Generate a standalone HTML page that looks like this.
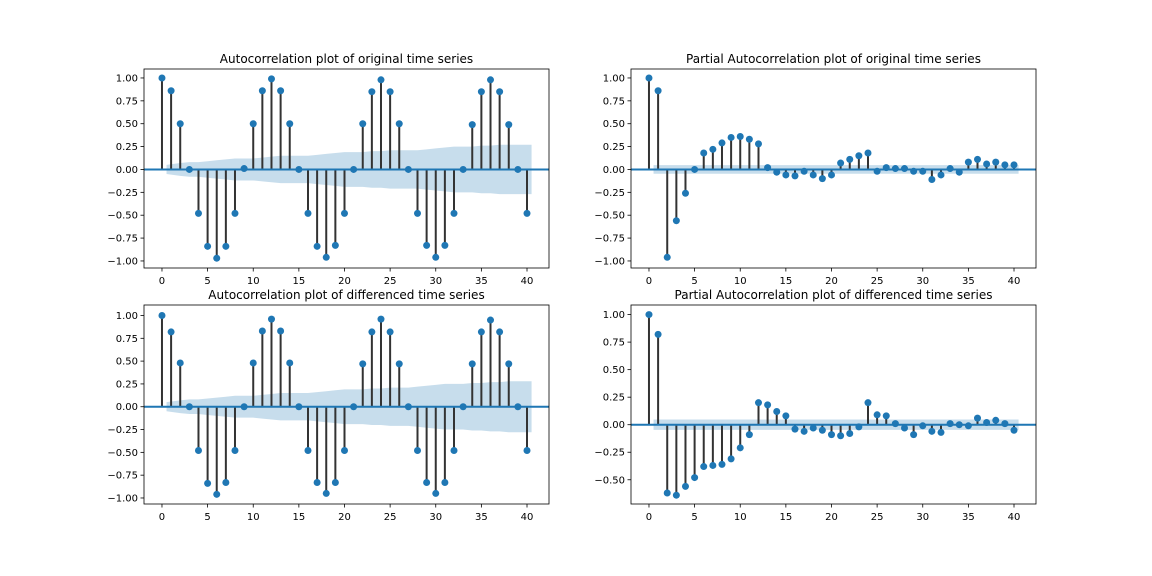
<!DOCTYPE html>
<html><head><meta charset="utf-8"><style>
body{margin:0;background:#fff;}
svg{display:block;font-family:"DejaVu Sans","Liberation Sans",sans-serif;}
</style></head><body>
<svg id="fig" width="1152" height="576"></svg>
<script>
const lags = Array.from({length:41},(_,i)=>i);
const acfOrig = [1,.86,.5,0,-.48,-.84,-.97,-.84,-.48,.01,.5,.86,.99,.86,.5,0,-.48,-.84,-.96,-.83,-.48,0,.5,.85,.98,.85,.5,0,-.48,-.83,-.96,-.83,-.48,0,.49,.85,.98,.85,.49,0,-.48];
const acfOrigBand = [0,.05,.07,.08,.08,.09,.10,.11,.12,.12,.12,.13,.14,.15,.15,.15,.15,.16,.17,.18,.19,.19,.19,.20,.20,.21,.21,.21,.21,.22,.23,.24,.25,.25,.25,.26,.26,.27,.27,.27,.27];
const pacfOrig = [1,.86,-.96,-.56,-.26,0,.18,.22,.29,.35,.36,.33,.28,.02,-.03,-.06,-.07,-.02,-.06,-.1,-.06,.07,.11,.15,.18,-.02,.02,.01,.01,-.02,-.02,-.11,-.06,.01,-.03,.08,.11,.06,.08,.05,.05];
const acfDiff = [1,.82,.48,0,-.48,-.84,-.96,-.83,-.48,0,.48,.83,.96,.83,.48,0,-.48,-.83,-.95,-.83,-.48,0,.47,.82,.96,.82,.47,0,-.48,-.83,-.95,-.83,-.48,0,.47,.82,.95,.82,.47,0,-.48];
const acfDiffBand = [0,.05,.07,.08,.08,.09,.10,.11,.12,.12,.12,.13,.14,.15,.15,.15,.15,.16,.17,.18,.19,.19,.19,.20,.20,.21,.21,.21,.22,.23,.24,.25,.25,.25,.26,.26,.27,.27,.28,.28,.28];
const pacfDiff = [1,.82,-.62,-.64,-.56,-.48,-.38,-.37,-.36,-.31,-.21,-.09,.2,.18,.12,.08,-.04,-.06,-.03,-.05,-.09,-.1,-.08,-.02,.2,.09,.08,.01,-.03,-.09,-.01,-.06,-.07,.01,0,-.01,.06,.02,.04,.01,-.05];
const pacfBand = 0.047;
const xTicks = [0,5,10,15,20,25,30,35,40];
const yTicksFull = [-1,-.75,-.5,-.25,0,.25,.5,.75,1];
const yTicksDiffPacf = [-.5,-.25,0,.25,.5,.75,1];

const NS="http://www.w3.org/2000/svg";
const fig=document.getElementById('fig');
function mk(tag,attrs,parent){const e=document.createElementNS(NS,tag);for(const k in attrs)e.setAttribute(k,attrs[k]);(parent||fig).appendChild(e);return e;}

function panel(name,title,box,ylim,vals,band,yticks){
  const g=mk('g',{});
  
  
  const [L,T,R,B]=box;
  const xlim=[-1.97,42.41];
  const sx=v=>L+(v-xlim[0])/(xlim[1]-xlim[0])*(R-L);
  const sy=v=>T+(ylim[1]-v)/(ylim[1]-ylim[0])*(B-T);
  let top=[],bot=[];
  for(let i=1;i<lags.length;i++){const b=Array.isArray(band)?band[i]:band;const x=i===1?lags[i]-0.5:(i===lags.length-1?lags[i]+0.5:lags[i]);top.push(sx(x)+','+sy(b));bot.unshift(sx(x)+','+sy(-b));}
  if(!Array.isArray(band)){top=[sx(0.5)+','+sy(band),sx(40.5)+','+sy(band)];bot=[sx(40.5)+','+sy(-band),sx(0.5)+','+sy(-band)];}
  const poly=mk('polygon',{points:top.concat(bot).join(' '),fill:'#1f77b4','fill-opacity':0.25},g);
  
  
  vals.forEach((v,i)=>{
    const l=mk('line',{x1:sx(lags[i]),x2:sx(lags[i]),y1:sy(0),y2:sy(v),stroke:'#333','stroke-width':2},g);
    
    
  });
  const zl=mk('line',{x1:L,x2:R,y1:sy(0),y2:sy(0),stroke:'#1f77b4','stroke-width':2},g);
  
  
  vals.forEach((v,i)=>{
    const c=mk('circle',{cx:sx(lags[i]),cy:sy(v),r:3.5,fill:'#1f77b4'},g);
    
    
  });
  const fr=mk('rect',{x:L,y:T,width:R-L,height:B-T,fill:'none',stroke:'#000','stroke-width':0.8},g);
  
  
  xTicks.forEach(t=>{
    mk('line',{x1:sx(t),x2:sx(t),y1:B,y2:B+3.5,stroke:'#000','stroke-width':0.8},g);
    const tx=mk('text',{x:sx(t),y:B+16,'text-anchor':'middle','font-size':10,fill:'#000'},g);
    tx.textContent=t;
    
    
  });
  yticks.forEach(t=>{
    mk('line',{x1:L-3.5,x2:L,y1:sy(t),y2:sy(t),stroke:'#000','stroke-width':0.8},g);
    const tx=mk('text',{x:L-6,y:sy(t)+3.5,'text-anchor':'end','font-size':10,fill:'#000'},g);
    tx.textContent=(t<0?'\u2212':'')+Math.abs(t).toFixed(2);
    
    
  });
  const tt=mk('text',{x:(L+R)/2,y:T-6,'text-anchor':'middle','font-size':12,fill:'#000'},g);
  tt.textContent=title;
  
  
}
panel('acf-original','Autocorrelation plot of original time series',[144,69,549,268],[-1.077,1.098],acfOrig,acfOrigBand,yTicksFull);
panel('pacf-original','Partial Autocorrelation plot of original time series',[631,69,1036,268],[-1.077,1.098],pacfOrig,pacfBand,yTicksFull);
panel('acf-differenced','Autocorrelation plot of differenced time series',[144,305,549,504],[-1.066,1.115],acfDiff,acfDiffBand,yTicksFull);
panel('pacf-differenced','Partial Autocorrelation plot of differenced time series',[631,305,1036,504],[-0.72,1.087],pacfDiff,pacfBand,yTicksDiffPacf);
</script>
</body></html>
